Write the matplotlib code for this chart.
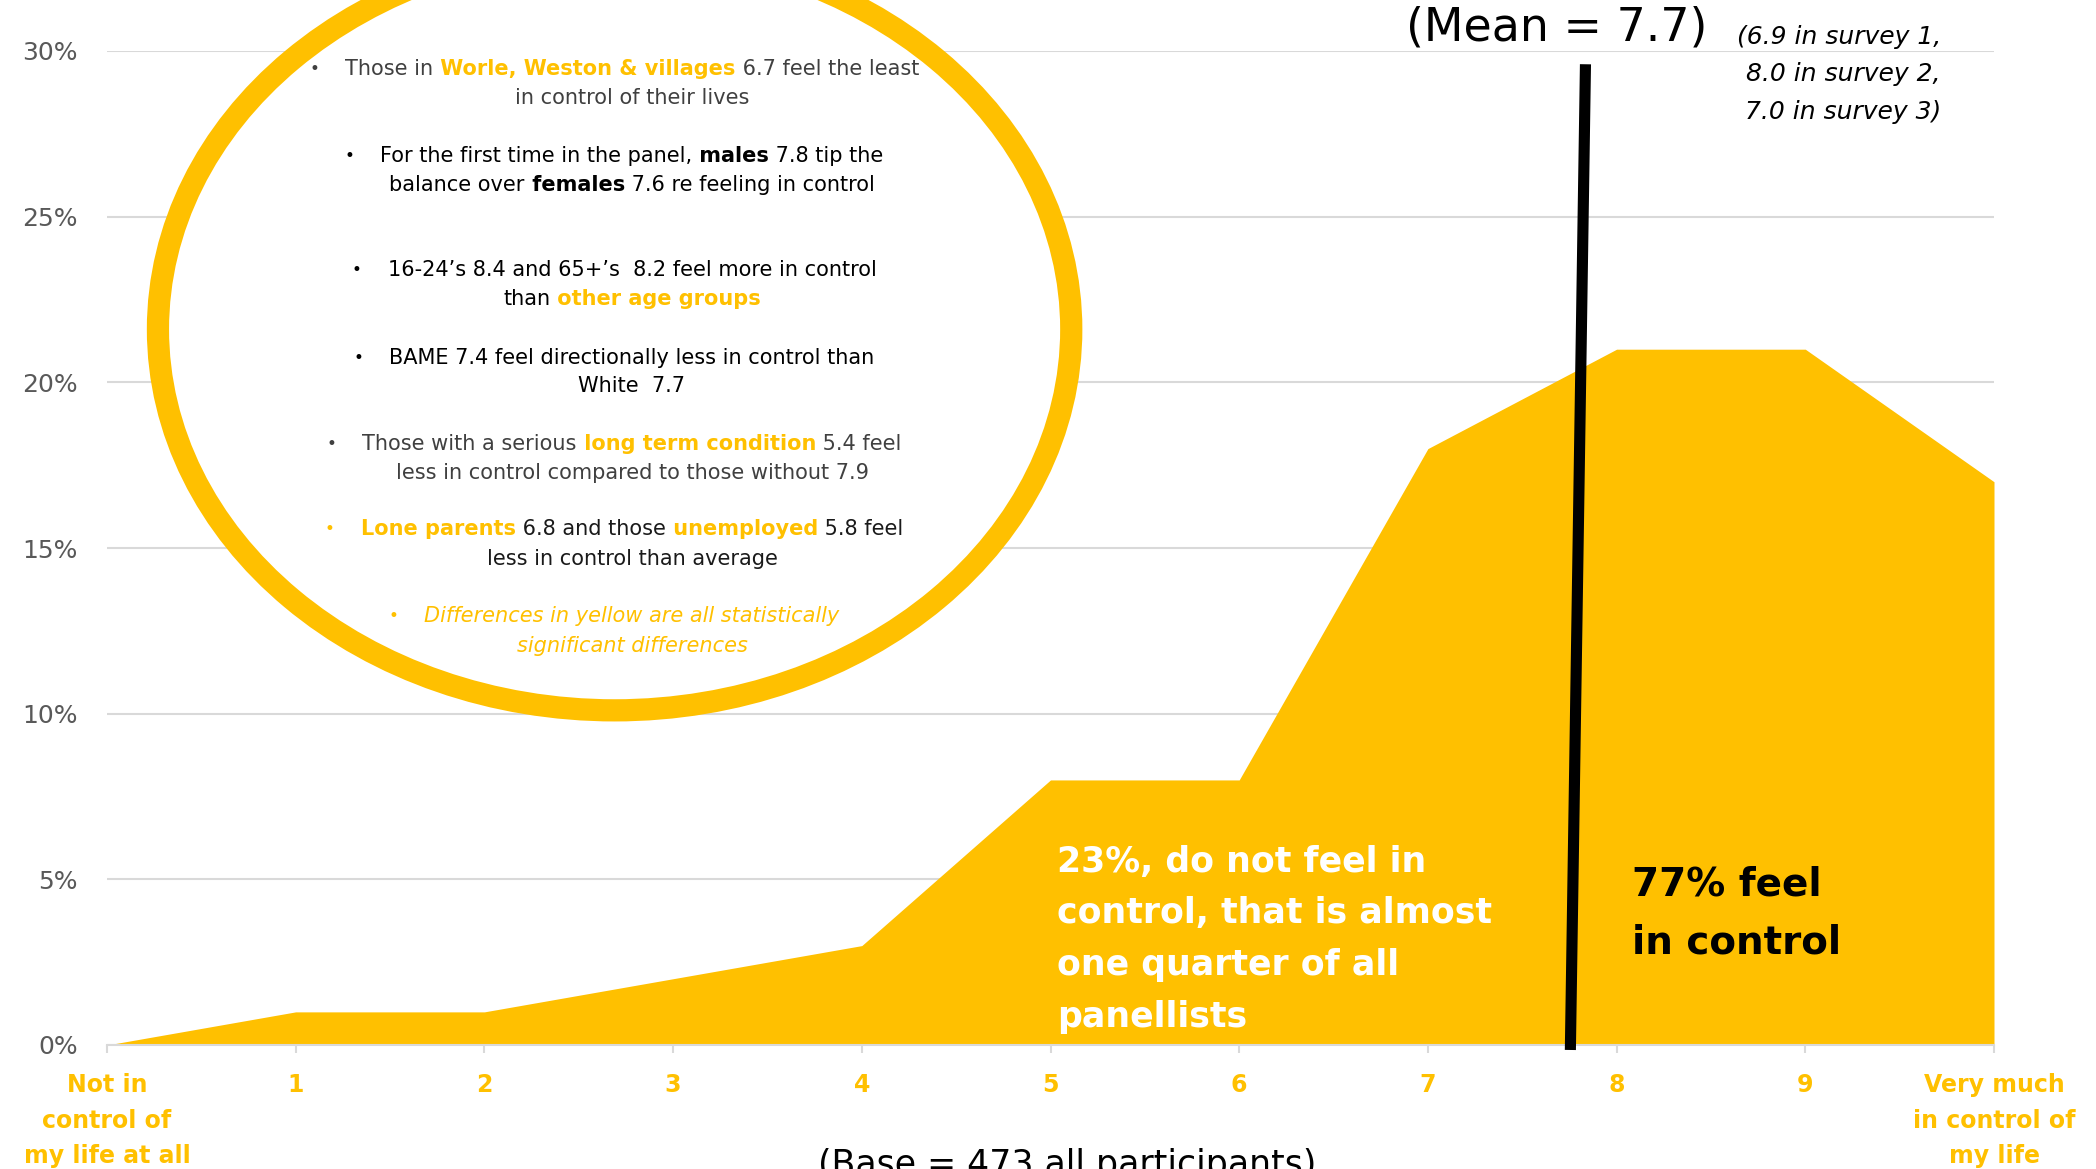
import matplotlib
matplotlib.use("Agg")
import matplotlib.pyplot as plt
from matplotlib.patches import Ellipse
from matplotlib.transforms import IdentityTransform

plt.rcParams["font.family"] = ["DejaVu Sans"]

W, H = 2096, 1169
YELLOW = "#FFC000"
GREY = "#404040"
GRID = "#d9d9d9"

# scores 0..10 and share of panellists (%)
scores = [0, 1, 2, 3, 4, 5, 6, 7, 8, 9, 10]
share = [0, 1, 1, 2, 3, 8, 8, 18, 21, 21, 17]
x_labels = ["Not in\ncontrol of\nmy life at all", "1", "2", "3", "4", "5",
            "6", "7", "8", "9", "Very much\nin control of\nmy life"]
y_ticks = [0, 5, 10, 15, 20, 25, 30]
mean_line_x = [7.755, 7.835]
mean_line_y = [-0.15, 29.6]

# notes inside the ring: (text, colour, weight, style) pieces per line
notes = [
    ([("Those in", GREY, "normal", "normal"),
      (" Worle, Weston & villages", YELLOW, "bold", "normal"),
      (" 6.7 feel the least", GREY, "normal", "normal")],
     [("in control of their lives", GREY, "normal", "normal")], GREY),
    ([("For the first time in the panel,", "black", "normal", "normal"),
      (" males", "black", "bold", "normal"),
      (" 7.8 tip the", "black", "normal", "normal")],
     [("balance over", "black", "normal", "normal"),
      (" females", "black", "bold", "normal"),
      (" 7.6 re feeling in control", "black", "normal", "normal")], "black"),
    ([("16-24\u2019s 8.4 and 65+\u2019s  8.2 feel more in control", "black", "normal", "normal")],
     [("than", "black", "normal", "normal"),
      (" other age groups", YELLOW, "bold", "normal")], "black"),
    ([("BAME 7.4 feel directionally less in control than", "black", "normal", "normal")],
     [("White  7.7", "black", "normal", "normal")], "black"),
    ([("Those with a serious", GREY, "normal", "normal"),
      (" long term condition", YELLOW, "bold", "normal"),
      (" 5.4 feel", GREY, "normal", "normal")],
     [("less in control compared to those without 7.9", GREY, "normal", "normal")], GREY),
    ([("Lone parents", YELLOW, "bold", "normal"),
      (" 6.8 and those", "#1a1a1a", "normal", "normal"),
      (" unemployed", YELLOW, "bold", "normal"),
      (" 5.8 feel", "#1a1a1a", "normal", "normal")],
     [("less in control than average", "#1a1a1a", "normal", "normal")], YELLOW),
    ([("Differences in yellow are all statistically", YELLOW, "normal", "italic")],
     [("significant differences", YELLOW, "normal", "italic")], YELLOW),
]
note_rows = [(69, 98), (156, 185), (270, 299), (358, 386), (444, 473), (529, 559), (616, 646)]

survey_lines = ["(6.9 in survey 1,", "8.0 in survey 2,", "7.0 in survey 3)"]
left_lines = ["23%, do not feel in", "control, that is almost", "one quarter of all", "panellists"]
right_lines = ["77% feel", "in control"]

fig = plt.figure(figsize=(W / 100, H / 100), dpi=100)
ax = fig.add_axes([107 / W, 124 / H, (1994 - 107) / W, (1045 - 51) / H])

ax.fill_between(scores, share, color=YELLOW, linewidth=0, zorder=2)
ax.set_xlim(0, 10)
ax.set_ylim(0, 30)
ax.set_yticks(y_ticks)
ax.set_yticklabels([f"{v}%" for v in y_ticks])
ax.set_xticks(scores)
ax.set_xticklabels(x_labels, color=YELLOW, fontweight="bold", fontsize=17,
                   linespacing=1.62)
ax.grid(axis="y", color=GRID, linewidth=1.5)
ax.set_axisbelow(True)
for s in ["top", "right", "left"]:
    ax.spines[s].set_visible(False)
ax.spines["bottom"].set_color(GRID)
ax.spines["bottom"].set_linewidth(1.5)
ax.tick_params(axis="y", length=0, pad=21, labelsize=18, labelcolor="#595959")
ax.tick_params(axis="x", length=6, width=1.5, color=GRID, pad=14)

# ring with notes
ring = Ellipse((2.69, 21.6), 4.84, 23.0, facecolor="white", edgecolor=YELLOW,
               linewidth=16, zorder=3, clip_on=False)
ax.add_patch(ring)

# mean line
ax.plot(mean_line_x, mean_line_y, color="black", linewidth=8,
        solid_capstyle="butt", clip_on=False, zorder=5)

renderer = fig.canvas.get_renderer()


def rich_line(cx, ytop, parts, bullet=None, size=15):
    y = H - ytop
    objs, widths = [], []
    for s, c, wgt, sty in parts:
        t = fig.text(0, y, s, transform=IdentityTransform(), color=c,
                     fontweight=wgt, fontstyle=sty, fontsize=size,
                     va="center", ha="left", zorder=6)
        objs.append(t)
        widths.append(t.get_window_extent(renderer).width)
    x = cx - sum(widths) / 2
    if bullet:
        fig.text(x - 36, y, "\u2022", transform=IdentityTransform(), color=bullet,
                 fontsize=size - 3, va="center", ha="left")
    for t, w in zip(objs, widths):
        t.set_x(x)
        x += w


for (l1, l2, bcol), (y1, y2) in zip(notes, note_rows):
    rich_line(632, y1, l1, bullet=bcol)
    rich_line(632, y2, l2)

# mean annotation
fig.text(1557, H - 28, "(Mean = 7.7)", transform=IdentityTransform(),
         fontsize=33, ha="center", va="center", color="black")
for i, s in enumerate(survey_lines):
    fig.text(1941, H - (37 + 37.5 * i), s, transform=IdentityTransform(),
             fontsize=18, fontstyle="italic", ha="right", va="center", color="black")

for i, s in enumerate(left_lines):
    fig.text(1057, H - (862 + 51.5 * i), s, transform=IdentityTransform(),
             fontsize=25, fontweight="bold", ha="left", va="center", color="white")
for i, s in enumerate(right_lines):
    fig.text(1632, H - (885 + 57 * i), s, transform=IdentityTransform(),
             fontsize=28, fontweight="bold", ha="left", va="center", color="black")

fig.text(1067, H - 1148, "(Base = 473 all participants)", transform=IdentityTransform(),
         fontsize=25, ha="center", va="top", color="black")

fig.savefig("out.png", dpi=100)
